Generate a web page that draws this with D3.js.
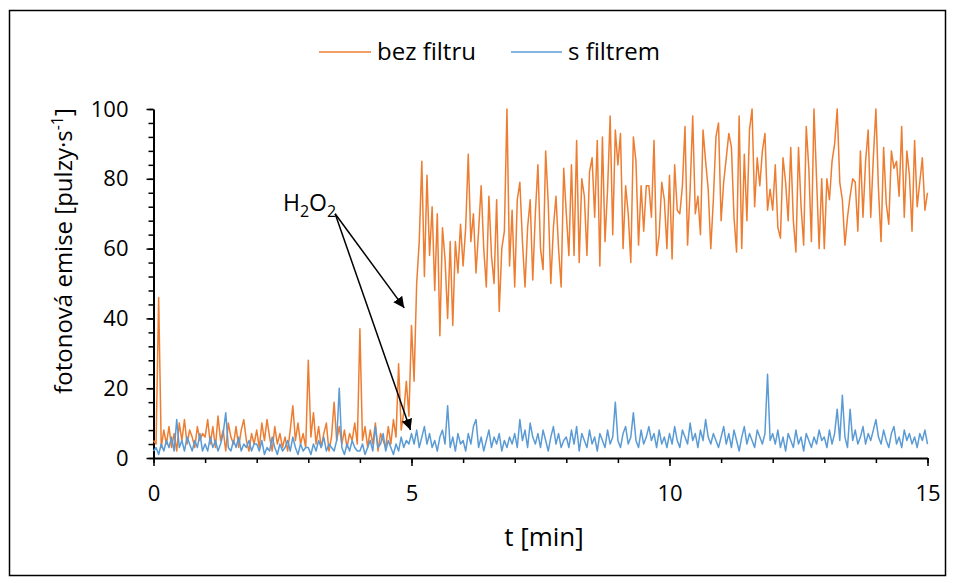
<!DOCTYPE html>
<html>
<head>
<meta charset="utf-8">
<script src="https://cdn.jsdelivr.net/npm/d3@7"></script>
<style>
  body { margin: 0; background: #fff; }
  text { font-family: "Open Sans", sans-serif; fill: #000; }
</style>
</head>
<body>
<div id="wrapper"></div>
<script>
// sampling interval of the recordings [min]
const STEP = 0.05

// bez filtru, one row per minute
const bezFiltru = [
  5,4,46,3,8,4,9,3,7,2,10,5,11,4,8,6,3,9,5,7,
  6,11,4,9,3,12,5,8,2,10,6,4,9,3,8,11,5,2,7,4,
  8,3,10,5,11,6,2,9,4,7,3,6,2,8,15,5,10,4,7,3,
  28,6,13,4,9,3,7,10,2,6,16,5,9,4,8,3,7,5,10,4,
  37,5,9,3,8,4,10,2,7,5,3,9,4,11,6,27,8,13,22,12,
  38,22,50,62,85,52,81,58,72,48,70,35,66,57,40,62,38,62,53,67,
  55,66,87,62,70,53,65,78,60,49,75,58,50,74,42,60,65,100,55,71,
  49,74,79,62,49,66,74,51,70,84,60,54,88,73,50,66,75,60,49,83,
  70,58,84,58,91,56,80,75,58,82,86,69,91,55,92,62,77,98,64,94,
  84,93,60,78,70,56,92,85,61,78,65,78,78,69,91,58,64,79,74,60,
  81,57,84,71,70,78,95,61,77,98,70,75,64,94,85,77,60,74,92,96,
  68,79,86,93,89,69,59,98,60,87,68,94,100,72,86,78,88,93,71,77,
  71,84,66,63,86,79,68,89,68,59,89,72,61,95,83,62,100,80,60,80,
  60,80,74,85,90,100,79,74,61,69,75,80,79,65,88,69,85,94,69,86,
  100,77,62,89,73,67,88,83,85,75,95,69,88,81,65,91,72,79,86,71,
  76
]

// s filtrem
const sFiltrem = [
  2,3,1,4,2,5,3,6,2,11,3,5,2,6,4,2,5,3,7,2,
  4,2,6,3,5,2,4,7,13,3,2,5,3,6,2,4,3,5,2,4,
  4,2,5,1,3,2,6,3,1,4,2,3,5,2,6,3,1,4,2,3,
  3,1,4,2,5,3,6,2,4,3,2,5,20,3,1,4,2,5,3,2,
  2,4,1,3,5,2,9,3,4,7,2,5,3,1,4,2,6,3,5,4,
  7,4,8,3,6,9,4,7,3,5,2,6,8,4,15,3,6,2,7,4,
  5,2,7,4,9,11,3,6,2,5,8,3,6,4,7,2,5,3,6,4,
  7,3,11,5,8,3,10,6,4,7,3,8,5,2,6,9,4,7,3,5,
  6,3,8,4,9,2,7,5,3,8,4,6,2,7,5,3,8,4,6,16,
  5,3,7,9,4,6,13,5,3,8,4,6,9,5,7,3,8,4,6,3,
  7,4,9,5,3,8,6,4,10,5,7,3,8,5,11,6,4,7,5,3,
  6,9,4,7,3,8,5,2,6,9,4,7,5,3,8,6,4,7,24,5,
  7,4,8,3,6,2,7,5,3,8,4,6,2,7,5,3,6,4,8,5,
  6,3,8,4,7,14,5,18,6,3,14,5,8,4,6,9,4,7,5,8,
  11,6,4,8,5,3,7,9,4,6,3,8,5,7,4,6,3,7,5,8,
  4
]

const seriesNames = ["bez filtru", "s filtrem"]
const colors = ["#ED7D31", "#5B9BD5"]
const xTicks = [0, 5, 10, 15]
const yTicks = [0, 20, 40, 60, 80, 100]

// H2O2 addition marker: label point and the two arrow tips [min, pulzy/s]
const h2o2Label = [3.52, 70]
const h2o2Tips = [[4.86, 43], [4.98, 8]]

const width = 957
const height = 583
const margin = { top: 109, right: 30, bottom: 125, left: 153.5 }
const boundedWidth = 927.5 - margin.left
const boundedHeight = 458 - margin.top

const svg = d3.select("#wrapper")
  .append("svg")
    .attr("width", width)
    .attr("height", height)

svg.append("rect")
    .attr("x", 9.5).attr("y", 10.5)
    .attr("width", 936).attr("height", 565)
    .attr("fill", "#fff")
    .attr("stroke", "#000")
    .attr("stroke-width", 1.5)

const bounds = svg.append("g")
    .attr("transform", `translate(${margin.left},${margin.top})`)

const xScale = d3.scaleLinear().domain([0, 15]).range([0, boundedWidth])
const yScale = d3.scaleLinear().domain([0, 100]).range([boundedHeight, 0])

const xAccessor = (d, i) => i * STEP

// minor ticks
bounds.append("g")
    .call(d3.axisLeft(yScale).tickValues(d3.range(0, 101, 4)).tickSize(5).tickFormat(""))
    .call(g => g.select(".domain").remove())
    .call(g => g.selectAll("line").attr("stroke-width", 1.5))
bounds.append("g")
    .attr("transform", `translate(0,${boundedHeight})`)
    .call(d3.axisBottom(xScale).tickValues(d3.range(0, 16, 1)).tickSize(5).tickFormat(""))
    .call(g => g.select(".domain").remove())
    .call(g => g.selectAll("line").attr("stroke-width", 1.5))

// major axes
const yAxis = bounds.append("g")
    .call(d3.axisLeft(yScale).tickValues(yTicks).tickSize(7).tickPadding(18).tickSizeOuter(0))
const xAxis = bounds.append("g")
    .attr("transform", `translate(0,${boundedHeight})`)
    .call(d3.axisBottom(xScale).tickValues(xTicks).tickSize(8).tickPadding(19).tickSizeOuter(0))

;[yAxis, xAxis].forEach(ax => {
  ax.selectAll("line").attr("stroke-width", 1.5)
  ax.select(".domain").attr("stroke-width", 2)
  ax.selectAll("text").style("font-family", "Open Sans").style("font-size", "22px").attr("fill", "#000")
})

const lineGenerator = d3.line()
    .x((d, i) => xScale(xAccessor(d, i)))
    .y(d => yScale(d))

;[bezFiltru, sFiltrem].forEach((values, k) => {
  bounds.append("path")
      .attr("d", lineGenerator(values))
      .attr("fill", "none")
      .attr("stroke", colors[k])
      .attr("stroke-width", 1.5)
      .attr("stroke-linejoin", "round")
})

// annotation
svg.append("defs").append("marker")
    .attr("id", "head")
    .attr("viewBox", "0 0 10 10")
    .attr("refX", 10).attr("refY", 5)
    .attr("markerWidth", 11).attr("markerHeight", 11)
    .attr("markerUnits", "userSpaceOnUse")
    .attr("orient", "auto")
  .append("path")
    .attr("d", "M0,0 L10,5 L0,10 Z")
    .attr("fill", "#000")

const [lx, ly] = [xScale(h2o2Label[0]), yScale(h2o2Label[1])]
h2o2Tips.forEach(([t, v]) => {
  bounds.append("line")
      .attr("x1", lx).attr("y1", ly)
      .attr("x2", xScale(t)).attr("y2", yScale(v))
      .attr("stroke", "#000")
      .attr("stroke-width", 1.5)
      .attr("marker-end", "url(#head)")
})

const label = bounds.append("text")
    .attr("x", lx + 1).attr("y", ly - 3)
    .attr("text-anchor", "end")
    .style("font-size", "23px")
label.append("tspan").text("H")
label.append("tspan").attr("dy", 6).style("font-size", "16px").text("2")
label.append("tspan").attr("dy", -6).text("O")
label.append("tspan").attr("dy", 6).style("font-size", "16px").text("2")

// axis titles
svg.append("text")
    .attr("x", 544).attr("y", 546)
    .attr("text-anchor", "middle")
    .style("font-size", "26px")
    .text("t [min]")

const yTitle = svg.append("text")
    .attr("transform", "translate(72,251) rotate(-90)")
    .attr("text-anchor", "middle")
    .style("font-size", "24px")
yTitle.append("tspan").text("fotonová emise [pulzy·s")
yTitle.append("tspan").attr("dy", -9).style("font-size", "16px").text("-1")
yTitle.append("tspan").attr("dy", 9).text("]")

// legend
const legendItems = [{ x: 319, w: 52 }, { x: 511, w: 51 }]
legendItems.forEach((item, k) => {
  const g = svg.append("g").attr("transform", `translate(${item.x},52)`)
  g.append("line")
      .attr("x1", 0).attr("x2", item.w)
      .attr("stroke", colors[k]).attr("stroke-width", 1.5)
  g.append("text")
      .attr("x", item.w + 6).attr("dy", "0.35em")
      .style("font-size", "24px")
      .text(seriesNames[k])
})
</script>
</body>
</html>
